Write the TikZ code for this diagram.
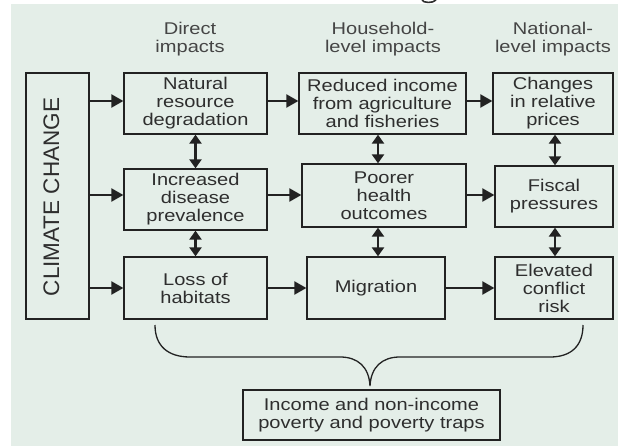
\documentclass[tikz,border=0pt]{standalone}
\usepackage{fontspec}
\setmainfont{Liberation Sans}
\newfontfamily\boxfont{Liberation Sans}[FakeStretch=1.18]
\usetikzlibrary{arrows.meta}
\definecolor{bgc}{HTML}{E4EEE8}
\definecolor{txt}{HTML}{2E2E2E}
\definecolor{hdrc}{HTML}{454545}
\definecolor{ln}{HTML}{222222}
\begin{document}
\begin{tikzpicture}[x=1pt,y=-1pt,
  box/.style={draw=ln,line width=1.3pt,inner sep=0pt,align=center,text=txt,
    font=\boxfont\fontsize{17}{18}\selectfont},
  hdr/.style={align=center,text=hdrc,inner sep=0pt,
    font=\boxfont\fontsize{17}{17.5}\selectfont},
  arr/.style={draw=ln,line width=2.3pt,-{Triangle[length=12pt,width=13pt]}},
  darr/.style={draw=ln,line width=2.3pt,{Triangle[length=9pt,width=12pt]}-{Triangle[length=9pt,width=12pt]}},
  brace/.style={draw=ln,line width=1.3pt}
]
\useasboundingbox (0,0) rectangle (618,446);
% fragment of a cut-off glyph above the panel
\draw[txt,line width=1.6pt] (422,0) .. controls (423,3) and (433,3.5) .. (436,0);
\fill[bgc] (11,4) rectangle (618,446);

% headers
\node[hdr] (h1) at (190,39) {Direct\\impacts};
\node[hdr] (h2) at (383,39) {Household-\\level impacts};
\node[hdr] (h3) at (553,39) {National-\\level impacts};

% climate change box
\node[box,minimum width=63pt,minimum height=246pt] (clim) at (57.5,196) {};
\node[rotate=90,inner sep=0pt,text=txt,font=\fontsize{22.5}{24}\selectfont] (climtxt) at (51.5,197) {CLIMATE CHANGE};

% row 1
\node[box,minimum width=143pt,minimum height=61pt] (n11) at (195.5,103.5) {Natural\\resource\\degradation};
\node[box,minimum width=167pt,minimum height=61pt] (n12) at (382.5,103.5) {Reduced income\\from agriculture\\and fisheries};
\node[box,minimum width=120pt,minimum height=61pt] (n13) at (553,103.5) {Changes\\in relative\\prices};
% row 2
\node[box,minimum width=143pt,minimum height=61pt] (n21) at (195.5,199.5) {Increased\\disease\\prevalence};
\node[box,minimum width=164pt,minimum height=63pt] (n22) at (384,195.5) {Poorer\\health\\outcomes};
\node[box,minimum width=118pt,minimum height=61pt] (n23) at (554,196.5) {Fiscal\\pressures};
% row 3
\node[box,minimum width=143pt,minimum height=62pt] (n31) at (195.5,288) {Loss of\\habitats};
\node[box,minimum width=138pt,minimum height=62pt] (n32) at (376,288) {Migration};
\node[box,minimum width=118pt,minimum height=62pt] (n33) at (554,288) {Elevated\\conflict\\risk};
% bottom
\node[box,minimum width=257pt,minimum height=50pt] (bot) at (371.5,415) {Income and non-income\\poverty and poverty traps};

% row levels and column lines for arrows
\coordinate (r1) at (0,101);
\coordinate (r2) at (0,195);
\coordinate (r3) at (0,288);
\coordinate (c2) at (378,0);
\coordinate (c3) at (555,0);

\draw[arr] (clim.east |- r1) -- (n11.west |- r1);
\draw[arr] (clim.east |- r2) -- (n21.west |- r2);
\draw[arr] (clim.east |- r3) -- (n31.west |- r3);
\draw[arr] (n11.east |- r1) -- (n12.west |- r1);
\draw[arr] (n12.east |- r1) -- (n13.west |- r1);
\draw[arr] (n21.east |- r2) -- (n22.west |- r2);
\draw[arr] (n22.east |- r2) -- (n23.west |- r2);
\draw[arr] (n31.east |- r3) -- (n32.west |- r3);
\draw[arr] (n32.east |- r3) -- (n33.west |- r3);

\draw[darr] (n11.south) -- (n21.north);
\draw[darr] (n21.south) -- (n31.north);
\draw[darr] (n12.south -| c2) -- (n22.north -| c2);
\draw[darr] (n22.south -| c2) -- (n32.north -| c2);
\draw[darr] (n13.south -| c3) -- (n23.north -| c3);
\draw[darr] (n23.south -| c3) -- (n33.north -| c3);

% brace
\coordinate (tip) at (370,386);
\coordinate (bl) at (155,325);
\coordinate (br) at (583,325);
\draw[brace] (bl) .. controls (155,346) and (168,357) .. (190,357) -- (340,357)
  .. controls (358,357) and (369,367) .. (tip)
  .. controls (371,367) and (382,357) .. (400,357) -- (550,357)
  .. controls (571,357) and (583,346) .. (br);
\end{tikzpicture}
\end{document}
